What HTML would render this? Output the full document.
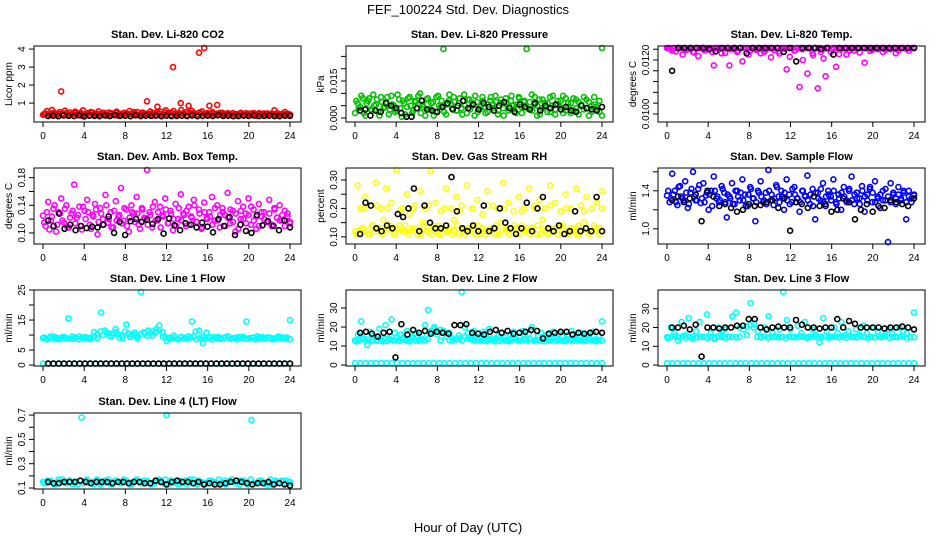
<!DOCTYPE html>
<html><head><meta charset="utf-8"><style>
body{margin:0;background:#fff;}
svg{display:block;font-family:"Liberation Sans",sans-serif;}
</style></head><body>
<svg id="chart" width="936" height="540" viewBox="0 0 936 540">
<text x="468" y="14" text-anchor="middle" font-size="13">FEF_100224  Std. Dev. Diagnostics</text>
<text x="468" y="532" text-anchor="middle" font-size="13">Hour of Day (UTC)</text>
</svg>
<script>
const xTicks=[0,4,8,12,16,20,24];
const co2Red="35 42 30 38 45 33 40 165 36 44 31 39 47 34 41 30 37 43 32 48 36 40 33 45 38 31 42 35 46 30 39 44 33 37 41 50 35 32 43 38 110 36 45 31 80 40 34 47 39 33 300 42 36 100 44 31 85 38 45 35 380 41 410 37 85 43 34 90 39 46 32 40 36 44 31 38 42 35 33 40 37 45 30 39 36 43 34 41 38 60 32 37 35 50 33 36";
const co2Band="40 55 38 62 45 35 50 42 58 36 48 40 52 34 46 60 38 44 50 36 42 54 40 46 35 48 44 38 52 40 36 46 42 56 38 44 50 36 48 42 40 54 38 46 44 52 36 60 42 48 56 40 44 62 38 50 46 58 42 36 48 54 40 44 38 50 36 42 46 40 38 44 36 42 40 38 46 36 44 40 42 38 36 44 40 38 42 36 40 38 44 36 40 38 42 36";
const co2Black="28 30 27 31 29 28 32 26 30 29 27 31 28 33 29 30 27 32 28 30 29 31 27 30 28 29 30 28 31 27 29 30 28 32 29 30 27 28 30 29 31 28 29 30 28 27 30 29";
const presGreen="20 60 45 80 10 70 35 95 55 25 85 40 65 15 90 50 30 75 5 60 45 85 20 70 40 100 55 10 80 35 65 25 90 45 280 15 70 55 85 30 60 40 95 20 75 50 10 65 35 85 45 25 70 55 90 15 60 40 80 30 70 50 20 85 45 65 280 35 95 55 10 75 40 60 25 85 50 15 70 45 90 30 60 20 80 40 65 55 35 75 10 50 85 45 25 285";
const presBand="70 40 90 20 60 80 30 50 75 10 65 45 85 35 55 25 95 40 70 15 80 50 30 65 90 20 45 75 35 60 10 85 50 70 25 55 95 40 65 30 80 15 50 75 35 60 90 25 45 70 20 55 85 40 65 30 75 10 60 45 90 35 55 80 20 70 40 65 30 85 50 15 75 45 60 25 90 35 55 70 20 80 45 60 30 75 15 50 85 40 65 25 55 35 70 10";
const presBlack="30 35 10 30 25 60 50 40 20 5 5 40 70 35 30 25 45 60 35 50 70 40 55 35 60 45 30 50 65 40 25 55 45 35 60 30 50 40 55 35 45 30 25 50 40 35 30 45";
const tempMag="1260 1250 1235 1262 1245 1255 1220 1258 1240 1264 1230 1252 1215 1260 1248 1238 1262 1255 1180 1245 1260 1225 1250 1263 1180 1240 1258 1230 1262 1195 1248 1255 1235 1260 1242 1250 1225 1262 1238 1256 1210 1260 1248 1232 1258 1245 1165 1262 1250 1235 1260 1100 1240 1255 1150 1262 1225 1250 1095 1258 1240 1140 1262 1230 1250 1175 1255 1240 1260 1220 1250 1263 1235 1258 1245 1260 1190 1250 1262 1238 1255 1245 1260 1230 1252 1263 1240 1258 1225 1262 1248 1255 1260 1235 1262 1250";
const tempBand="1250 1240 1262 1232 1255 1246 1262 1238 1250 1258 1228 1262 1244 1252 1236 1262 1248 1230 1256 1262 1242 1250 1226 1262 1240 1254 1262 1234 1248 1262 1244 1220 1256 1262 1238 1250 1262 1230 1246 1258 1262 1236 1250 1224 1262 1242 1254 1212 1262 1236 1250 1262 1200 1244 1258 1262 1218 1250 1262 1230 1206 1256 1262 1240 1250 1262 1222 1244 1258 1262 1236 1250 1262 1242 1228 1256 1262 1246 1234 1262 1250 1240 1262 1256 1238 1262 1248 1244 1262 1236 1252 1262 1242 1250 1262 1246";
const tempBlack="1160 1262 1250 1264 1262 1255 1240 1232 1262 1258 1255 1262 1225 1265 1262 1258 1262 1264 1230 1262 1195 1258 1264 1262 1240 1262 1220 1262 1255 1262 1260 1245 1262 1264 1262 1250 1262 1264 1262 1258";
const ambMag="125 110 145 118 135 102 130 150 115 140 108 128 170 122 138 105 132 148 112 126 142 98 136 120 155 115 130 108 146 124 165 118 134 102 140 128 152 112 136 122 193 130 108 145 118 138 126 150 114 132 104 142 120 156 128 110 138 124 148 116 134 106 144 122 130 152 118 140 108 136 126 158 114 132 102 146 120 138 128 150 112 134 106 142 124 130 116 148 110 136 122 140 118 132 128 114";
const ambBand="115 130 105 124 140 112 128 118 135 108 122 132 114 126 110 138 120 130 106 124 134 116 128 112 140 120 108 132 118 126 114 136 110 122 130 116 128 106 134 120 112 126 138 118 130 108 124 134 114 128 120 110 136 118 126 132 112 122 140 116 128 108 130 120 124 112 136 118 126 130 110 122 134 116 128 106 132 120 114 126 138 118 124 110 130 120 116 128 112 134 122 118 126 110 124 116";
const ambBlack="118 110 128 106 112 104 110 107 109 108 112 124 100 116 97 117 120 116 119 113 120 99 121 111 104 114 112 108 115 109 101 120 110 123 97 112 103 100 126 111 117 110 104 118 108";
const rhYellow="12 28 20 13 24 11 21 14 29 12 20 16 27 13 22 11 34 14 20 12 25 18 13 21 11 26 15 20 12 33 14 22 11 19 13 27 12 20 16 24 11 21 13 28 12 20 14 23 11 18 12 26 13 21 11 20 15 29 12 22 13 19 11 24 14 20 12 27 13 21 11 23 16 20 12 28 13 22 11 19 14 25 12 20 13 27 11 21 15 24 12 20 13 22 11 26";
const rhBand="11 12 13 20 12 11 14 12 21 13 11 12 20 14 12 11 13 19 12 14 11 12 20 13 12 11 14 12 21 11 13 12 14 11 20 12 13 11 12 14 19 12 11 13 12 20 11 14 12 13 11 21 12 13 14 11 12 20 13 11 12 14 13 11 19 12 13 11 12 20 14 11 13 12 11 21 12 13 11 14 12 20 11 13 12 11 14 12 19 13 11 12 14 12 13 20";
const rhBlack="11 22 21 13 12 14 13 18 17 20 27 12 21 15 13 13 14 31 19 13 12 14 12 21 12 13 20 15 13 11 13 22 12 20 24 13 12 14 11 12 19 12 13 12 24 12";
const flowBlue="135 128 158 140 125 145 132 150 122 138 160 130 142 127 148 135 120 140 155 132 128 145 138 112 134 148 126 140 130 152 136 124 144 132 108 140 150 128 138 162 130 125 146 134 140 120 152 136 128 144 132 118 140 135 156 126 142 110 138 130 148 124 140 134 152 128 136 120 144 130 140 155 126 138 132 145 118 136 142 128 150 134 122 140 130 86 148 136 126 144 132 138 110 140 128 135";
const flowBand="140 132 136 128 144 134 130 138 126 142 134 130 146 132 128 138 136 124 140 134 130 142 128 136 132 126 140 134 138 130 124 136 142 132 128 138 134 130 126 140 136 132 144 128 134 138 130 126 142 136 132 128 140 134 130 136 124 138 132 142 128 134 136 130 140 126 132 138 134 128 142 130 136 132 126 140 134 130 144 138 128 132 136 130 142 134 128 138 132 136 130 140 128 134 132 136";
const flowBlack="130 134 128 132 136 108 140 134 124 126 122 118 120 126 124 125 128 130 122 132 98 128 126 122 134 124 126 118 120 132 128 110 120 126 118 124 122 130 128 126 124 132";
const l1Cyan="90 88 92 95 87 90 93 155 88 91 96 89 92 87 94 90 175 115 105 98 120 92 90 135 94 100 89 245 105 115 98 110 132 95 80 92 98 88 94 90 96 145 112 115 73 108 92 94 90 88 92 95 89 91 94 90 145 88 92 96 89 91 93 87 90 95 92 88 150";
const l1Band="92 86 95 89 91 87 94 90 88 96 92 86 90 94 88 92 110 104 112 100 108 96 106 110 102 98 112 106 100 108 96 104 110 98 106 112 120 116 110 94 90 88 92 86 94 90 88 92 96 86 90 94 88 92 86 90 94 88 92 96 88 90 86 92 94 88 90 92 86 90 94 88 92 90 86 94 88 90 92 86";
const l1Low="5 5 5 5 5 5 5 5 5 5 5 5 5 5 5 5 5 5 5 5 5 5 5 5 5 5 5 5 5 5 5 5 5 5 5 5 5 5 5 5 5 5 5 5 5 5 5 5";
const l1Black="5 5 5 5 5 5 5 5 5 5 5 5 5 5 5 5 5 5 5 5 5 5 5 5 5 5 5 5 5 5 5 5 5 5 5 5 5 5 5 5 5 5 5 5 5 5 5";
const l2Cyan="130 160 230 140 105 175 130 150 190 125 210 140 240 170 130 160 145 180 125 150 170 135 160 210 290 175 200 160 130 180 150 170 140 135 155 390 200 170 140 180 150 130 175 160 190 140 125 155 170 145 130 160 175 135 150 180 140 165 200 130 155 170 145 160 130 175 140 165 150 135 160 180 145 130 170 150 160 140 175 135 155 230";
const l2Band="125 130 140 128 135 130 145 128 132 138 126 134 130 142 128 136 130 125 140 132 128 135 130 138 180 190 175 185 180 170 130 128 135 140 130 150 140 135 128 132 138 130 126 134 130 140 128 135 130 126 132 138 130 128 134 130 136 128 132 130 126 134 130 138 128 132 130 126 134 130 128 136 130 132 128 134 130 126 132 130";
const l2Low="10 10 10 10 10 10 10 10 10 10 10 10 10 10 10 10 10 10 10 10 10 10 10 10 10 10 10 10 10 10 10 10 10 10 10 10 10 10 10 10 10 10 10 10 10 10 10 10";
const l2Black="170 175 165 150 170 175 40 215 160 185 170 180 165 175 170 165 210 210 215 170 165 160 175 185 170 180 165 170 175 185 180 140 165 170 175 175 160 170 165 170 175 170";
const l3Cyan="150 200 170 130 230 160 250 140 180 230 150 270 170 140 200 160 190 150 260 280 150 190 160 330 220 180 150 200 260 170 150 190 400 240 190 150 210 170 230 150 190 160 120 250 180 150 200 170 230 160 180 150 190 160 210 170 150 200 180 150 160 190 170 150 200 180 170 150 280";
const l3Band="145 150 155 148 152 146 150 154 148 150 152 146 150 148 154 150 146 152 150 148 200 210 205 215 200 150 148 152 146 150 154 148 150 146 152 150 148 154 150 146 152 150 148 150 154 146 150 152 148 150 146 154 150 148 152 150 146 150 148 154 150 152 146 150 148 150 152 146 150 148";
const l3Low=l2Low;
const l3Black="200 200 210 190 215 45 200 200 195 200 200 210 210 245 245 200 190 200 205 200 200 240 215 200 200 195 200 200 245 200 235 220 200 200 200 200 195 200 200 205 200 190";
const l4Cyan="15 14 16 13 15 17 14 16 15 13 68 16 14 15 17 13 16 14 15 16 14 17 15 13 16 15 14 16 13 15 17 14 70 16 15 13 14 16 15 17 13 15 14 16 15 13 14 16 15 17 14 13 16 15 66 14 16 15 13 17 14 15 16 14 15";
const l4Band="14 16 15 13 17 15 14 16 13 15 16 14 17 15 13 16 14 15 17 13 16 15 14 16 13 15 17 14 16 15 13 14 16 15 17 13 15 14 16 15 13 17 14 16 15 13 14 16 15 17 14 13 16 15 14 16 15 13 17 14 15 16 14 15 13 16 14 15 16 14";
const l4Black="15 14 14 15 15 15 16 15 14 15 15 15 14 15 15 14 15 15 14 14 16 15 13 15 16 15 15 14 15 13 14 13 13 14 15 16 15 14 13 14 14 15 13 14 13 12";

const NS="http://www.w3.org/2000/svg";
const svg=document.getElementById('chart');
const P=s=>s.trim().split(/\s+/).map(Number);
function mk(tag,attrs,parent){const e=document.createElementNS(NS,tag);for(const k in attrs)e.setAttribute(k,attrs[k]);(parent||svg).appendChild(e);return e;}

const panels=[
 {t:"Stan. Dev. Li-820 CO2",yl:"Licor ppm",c:0,r:0,ymin:-0.05,ymax:4.17,ticks:[1,2,3,4],labs:["1","2","3","4"],sc:0.01,series:[[co2Band,"#ff0000"],[co2Red,"#ff0000"],[co2Black,"#000"]]},
 {t:"Stan. Dev. Li-820 Pressure",yl:"kPa",c:1,r:0,ymin:-0.0016,ymax:0.0292,ticks:[0,0.005,0.01,0.015,0.02,0.025],labs:["0.000","","","0.015","",""],sc:0.0001,series:[[presBand,"#00c000"],[presGreen,"#00c000"],[presBlack,"#000"]]},
 {t:"Stan. Dev. Li-820 Temp.",yl:"degrees C",c:2,r:0,ymin:0.0097,ymax:0.01252,ticks:[0.0100,0.0104,0.0108,0.0112,0.0116,0.0120,0.0124],labs:["0.0100","","","","","0.0120",""],sc:0.00001,series:[[tempBand,"#ff00ff"],[tempMag,"#ff00ff"],[tempBlack,"#000"]]},
 {t:"Stan. Dev. Amb. Box Temp.",yl:"degrees C",c:0,r:1,ymin:0.084,ymax:0.194,ticks:[0.10,0.12,0.14,0.16,0.18],labs:["0.10","","0.14","","0.18"],sc:0.001,series:[[ambBand,"#ff00ff"],[ambMag,"#ff00ff"],[ambBlack,"#000"]]},
 {t:"Stan. Dev. Gas Stream RH",yl:"percent",c:1,r:1,ymin:0.075,ymax:0.342,ticks:[0.10,0.15,0.20,0.25,0.30],labs:["0.10","","0.20","","0.30"],sc:0.01,series:[[rhBand,"#ffff00"],[rhYellow,"#ffff00"],[rhBlack,"#000"]]},
 {t:"Stan. Dev. Sample Flow",yl:"ml/min",c:2,r:1,ymin:0.84,ymax:1.64,ticks:[1.0,1.2,1.4,1.6],labs:["1.0","","1.4",""],sc:0.01,series:[[flowBand,"#0000ff"],[flowBlue,"#0000ff"],[flowBlack,"#000"]]},
 {t:"Stan. Dev. Line 1 Flow",yl:"ml/min",c:0,r:2,ymin:-0.3,ymax:25,ticks:[0,5,10,15,20,25],labs:["0","5","","15","","25"],sc:0.1,series:[[l1Band,"#00ffff"],[l1Cyan,"#00ffff"],[l1Low,"#00ffff"],[l1Black,"#000"]]},
 {t:"Stan. Dev. Line 2 Flow",yl:"ml/min",c:1,r:2,ymin:-0.5,ymax:39.5,ticks:[0,10,20,30],labs:["0","10","20","30"],sc:0.1,series:[[l2Band,"#00ffff"],[l2Cyan,"#00ffff"],[l2Low,"#00ffff"],[l2Black,"#000"]]},
 {t:"Stan. Dev. Line 3 Flow",yl:"ml/min",c:2,r:2,ymin:-0.5,ymax:40,ticks:[0,10,20,30],labs:["0","10","20","30"],sc:0.1,series:[[l3Band,"#00ffff"],[l3Cyan,"#00ffff"],[l3Low,"#00ffff"],[l3Black,"#000"]]},
 {t:"Stan. Dev. Line 4 (LT) Flow",yl:"ml/min",c:0,r:3,ymin:0.092,ymax:0.717,ticks:[0.1,0.2,0.3,0.4,0.5,0.6,0.7],labs:["0.1","","0.3","","0.5","","0.7"],sc:0.01,series:[[l4Band,"#00ffff"],[l4Cyan,"#00ffff"],[l4Black,"#000"]]}
];
const colX=[34,346,658],rowY=[46,168,290,413],W=267,H=76;
panels.forEach((p,pi)=>{
 const L=colX[p.c],T=rowY[p.r];
 const g=mk('g',{});
 
 
 const xs=h=>L+9+h/24*247;
 const ys=v=>T+H-(v-p.ymin)/(p.ymax-p.ymin)*H;
 const tt=mk('text',{x:L+W/2,y:T-8,'text-anchor':'middle','font-size':'11','font-weight':'bold'},g);tt.textContent=p.t;
 
 p.series.forEach(([str,col],si)=>{
  const vals=P(str);const n=vals.length;
  const sg=mk('g',{fill:'none',stroke:col,'stroke-width':'1.6'},g);
  
  
  const isBlack=col==="#000";
  const off=si===0&&!isBlack?0.12:0;
  vals.forEach((v,i)=>{
   const h=isBlack?0.5+i*23.5/(n-1):off+i*(24-off)/(n-1);
   const c=mk('circle',{cx:xs(h).toFixed(1),cy:Math.max(T+2,Math.min(T+H-1,ys(v*p.sc))).toFixed(1),r:'2.5'},sg);
   
   
  });
 });
 const box=mk('rect',{x:L,y:T,width:W,height:H,fill:'none',stroke:'#000','stroke-width':'1'},g);
 
 xTicks.forEach(t=>{
  const x=xs(t);
  mk('line',{x1:x,x2:x,y1:T+H,y2:T+H+5,stroke:'#000'},g);
  const tx=mk('text',{x:x,y:T+H+17,'text-anchor':'middle','font-size':'10'},g);tx.textContent=t;
  
 });
 p.ticks.forEach((t,i)=>{
  const y=ys(t);
  mk('line',{x1:L-5,x2:L,y1:y,y2:y,stroke:'#000'},g);
  if(p.labs[i]){
   const tx=mk('text',{x:L-9,y:y,'text-anchor':'middle','font-size':'10',transform:`rotate(-90 ${L-9} ${y})`},g);tx.textContent=p.labs[i];
   
  }
 });
 const yx=L-22,yy=T+H/2;
 const yt=mk('text',{x:yx,y:yy,'text-anchor':'middle','font-size':'10',transform:`rotate(-90 ${yx} ${yy})`},g);yt.textContent=p.yl;
 
});
</script>
</body></html>
